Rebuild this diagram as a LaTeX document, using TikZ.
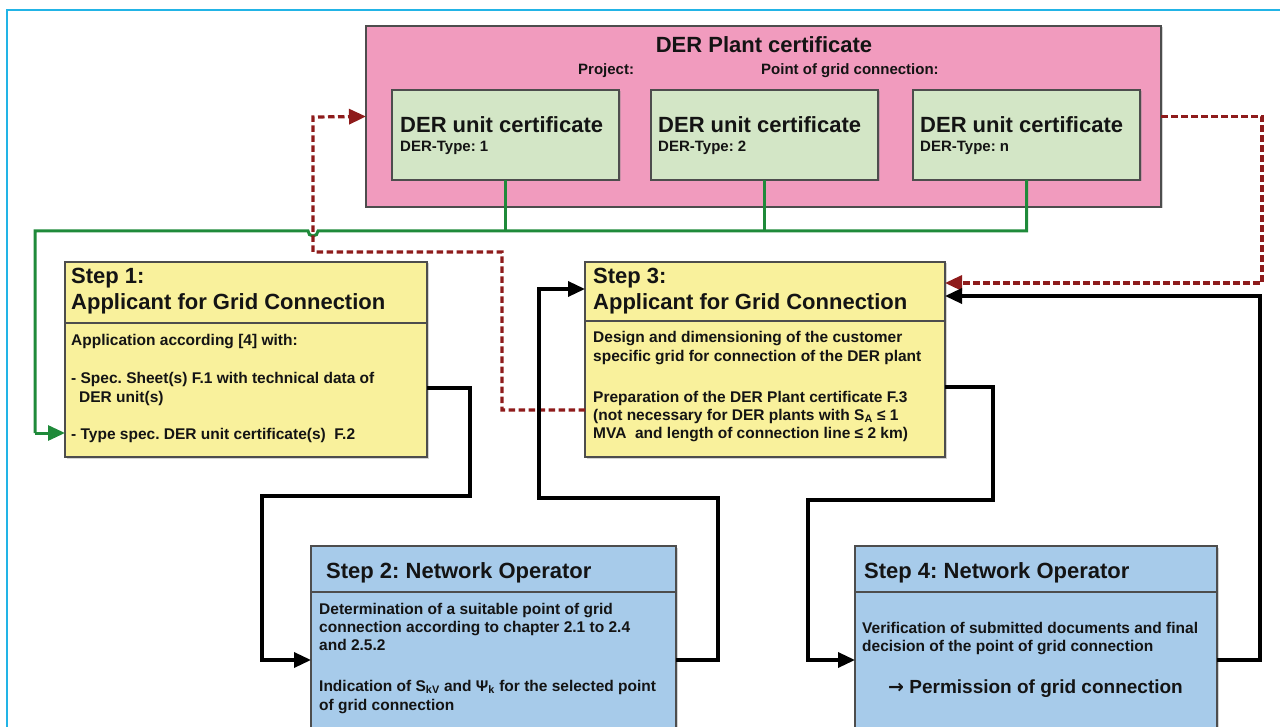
\documentclass[tikz,border=0pt]{standalone}
\usepackage{fontspec}
\setmainfont{Liberation Sans}
\newfontfamily\dejavu{DejaVu Sans}
\usetikzlibrary{arrows.meta,shadows}
\definecolor{pinkc}{HTML}{F19BBE}
\definecolor{greenc}{HTML}{D3E6C6}
\definecolor{yellowc}{HTML}{F9F19C}
\definecolor{bluec}{HTML}{A7CBEA}
\definecolor{bordc}{HTML}{4D4D4D}
\definecolor{grnline}{HTML}{1F8A3A}
\definecolor{redline}{HTML}{8E1B1B}
\definecolor{framec}{HTML}{22B4E6}
\definecolor{txtc}{HTML}{141414}
\begin{document}
\frenchspacing
\begin{tikzpicture}[x=1pt,y=-1pt,
  boxst/.style={draw=bordc, line width=1.4pt, anchor=north west, inner sep=0, outer sep=0,
     drop shadow={shadow xshift=1.5pt, shadow yshift=-1.5pt, opacity=0.35}},
  divst/.style={draw=bordc, line width=1.4pt},
  ttl/.style={font=\fontsize{22}{26}\selectfont\bfseries, text=txtc, anchor=base west, inner sep=0},
  bdy/.style={font=\fontsize{15.5}{18}\selectfont\bfseries, text=txtc, anchor=base west, inner sep=0},
  subt/.style={font=\fontsize{15}{18}\selectfont\bfseries, text=txtc, anchor=base west, inner sep=0},
  tipst/.style={-{Triangle[length=17pt,width=15pt]}},
  blk/.style={draw=black, line width=3.4pt, tipst},
  grn/.style={draw=grnline, line width=3pt},
  reddash/.style={draw=redline, line width=3.2pt, dash pattern=on 6.5pt off 3.5pt},
]
\useasboundingbox (0,0) rectangle (1280,727);
\clip (0,0) rectangle (1280,727);
% frame
\draw[framec, line width=1.3pt] (7,727) -- (7,10) -- (1280,10);

% plant certificate
\node[boxst, fill=pinkc, minimum width=795pt, minimum height=181pt] (plant) at (366,26) {};
\node[ttl, anchor=base] (pt) at (764,53) {DER Plant certificate};
\node[subt] (pj) at (578,75) {Project:};
\node[subt] (pg) at (761,75) {Point of grid connection:};

\node[boxst, fill=greenc, minimum width=227pt, minimum height=90pt] (u1) at (392,90) {};
\node[boxst, fill=greenc, minimum width=227pt, minimum height=90pt] (u2) at (651,90) {};
\node[boxst, fill=greenc, minimum width=227pt, minimum height=90pt] (u3) at (913,90) {};
\node[ttl] (u1t) at (400,133) {DER unit certificate};
\node[subt] (u1s) at (400,152) {DER-Type: 1};
\node[ttl] (u2t) at (658,133) {DER unit certificate};
\node[subt] (u2s) at (658,152) {DER-Type: 2};
\node[ttl] (u3t) at (920,133) {DER unit certificate};
\node[subt] (u3s) at (920,152) {DER-Type: n};

% step boxes
\node[boxst, fill=yellowc, minimum width=362pt, minimum height=195pt] (s1) at (65,262) {};
\node[boxst, fill=yellowc, minimum width=360pt, minimum height=195pt] (s3) at (585,262) {};
\node[boxst, fill=bluec, minimum width=365pt, minimum height=200pt] (s2) at (311,546) {};
\node[boxst, fill=bluec, minimum width=362pt, minimum height=200pt] (s4) at (855,546) {};
\draw[divst] (65,323) -- (427,323);
\draw[divst] (585,321) -- (945,321);
\draw[divst] (311,592) -- (676,592);
\draw[divst] (855,592) -- (1217,592);

% step 1 text
\node[ttl] (s1a) at (71,284) {Step 1:};
\node[ttl] (s1b) at (71,310) {Applicant for Grid Connection};
\node[bdy] (s1c) at (71,345) {Application according [4] with:};
\node[bdy] (s1d) at (71,384) {- Spec. Sheet(s) F.1 with technical data of};
\node[bdy] (s1e) at (79,402) {DER unit(s)};
\node[bdy] (s1f) at (71,439) {- Type spec. DER unit certificate(s)\ \ F.2};

% step 3 text
\node[ttl] (s3a) at (593,284) {Step 3:};
\node[ttl] (s3b) at (593,310) {Applicant for Grid Connection};
\node[bdy] (s3c) at (593,343) {Design and dimensioning of the customer};
\node[bdy] (s3d) at (593,361) {specific grid for connection of the DER plant};
\node[bdy] (s3e) at (593,402) {Preparation of the DER Plant certificate F.3};
\node[bdy] (s3f) at (593,420) {(not necessary for DER plants with S\textsubscript{A} ≤ 1};
\node[bdy] (s3g) at (593,438) {MVA\ \ and length of connection line ≤ 2 km)};

% step 2 text
\node[ttl] (s2a) at (326,578) {Step 2: Network Operator};
\node[bdy] (s2b) at (319,614) {Determination of a suitable point of grid};
\node[bdy] (s2c) at (319,632) {connection according to chapter 2.1 to 2.4};
\node[bdy] (s2d) at (319,650) {and 2.5.2};
\node[bdy] (s2e) at (319,691) {Indication of S\textsubscript{kV} and Ψ\textsubscript{k} for the selected point};
\node[bdy] (s2f) at (319,710) {of grid connection};

% step 4 text
\node[ttl] (s4a) at (864,578) {Step 4: Network Operator};
\node[bdy] (s4b) at (862,633) {Verification of submitted documents and final};
\node[bdy] (s4c) at (862,651) {decision of the point of grid connection};
\node[font=\fontsize{19}{22}\selectfont\bfseries, text=txtc, anchor=base west, inner sep=0] (s4d) at (888,693) {{\dejavu\fontsize{19}{22}\selectfont →} Permission of grid connection};

% green connectors
\coordinate (gl) at (35,231);
\coordinate (gb) at (318,231);
\coordinate (gin) at (35,433);
\draw[grn] (u1.south) -- (u1.south |- gl);
\draw[grn] (u2.south) -- (u2.south |- gl);
\draw[grn] (u3.south) |- (gb) arc[start angle=0, end angle=-180, radius=5pt] -- (gl) -- (gin);
\draw[grn, tipst] (gin) -- (s1.west |- gin);

% red dashed
\coordinate (r1) at (502,410);
\coordinate (r2) at (502,252);
\coordinate (r3) at (313,117);
\coordinate (r4) at (1262,283);
\draw[reddash, tipst] (s3.west |- r1) -| (r2) -| (r3) -- (plant.west);
\draw[reddash, tipst] (plant.east) -| (r4) -- (s3.east |- r4);

% black connectors
\coordinate (k1) at (470,388);
\coordinate (k2) at (262,496);
\coordinate (k4) at (262,660);
\draw[blk] (s1.east |- k1) -- (k1) |- (k2) -- (k4) -- (s2.west |- k4);
\coordinate (m1) at (718,660);
\coordinate (m2) at (718,498);
\coordinate (m3) at (539,289);
\draw[blk] (s2.east |- m1) -- (m1) -- (m2) -| (m3) -- (s3.west |- m3);
\coordinate (n1) at (993,387);
\coordinate (n2) at (993,500);
\coordinate (n3) at (808,660);
\draw[blk] (s3.east |- n1) -- (n1) -- (n2) -| (n3) -- (s4.west |- n3);
\coordinate (q1) at (1260,660);
\coordinate (q2) at (1260,296);
\draw[blk] (s4.east |- q1) -- (q1) -- (q2) -- (s3.east |- q2);
\end{tikzpicture}
\end{document}
